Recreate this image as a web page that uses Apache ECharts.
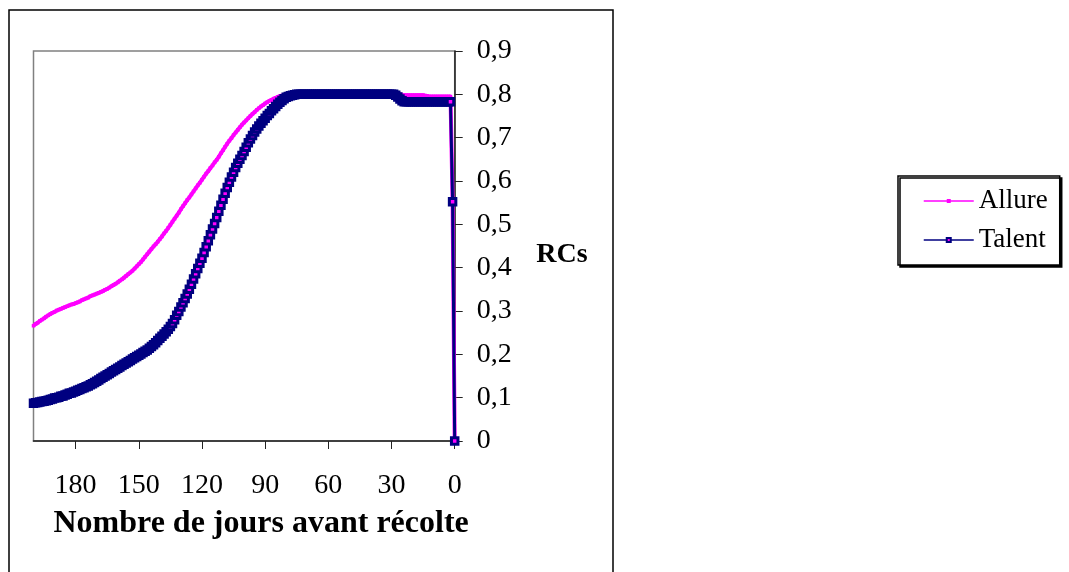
<!DOCTYPE html>
<html>
<head>
<meta charset="utf-8">
<script src="https://cdn.jsdelivr.net/npm/echarts@6/dist/echarts.min.js"></script>
<style>
  html, body { margin: 0; padding: 0; background: #ffffff; }
  #chart { width: 1069px; height: 572px; }
</style>
</head>
<body>
<div id="chart"></div>
<script>
// Days before harvest (x), one reading per day
const days = [
  200,199,198,197,196,195,194,193,192,191,
  190,189,188,187,186,185,184,183,182,181,
  180,179,178,177,176,175,174,173,172,171,
  170,169,168,167,166,165,164,163,162,161,
  160,159,158,157,156,155,154,153,152,151,
  150,149,148,147,146,145,144,143,142,141,
  140,139,138,137,136,135,134,133,132,131,
  130,129,128,127,126,125,124,123,122,121,
  120,119,118,117,116,115,114,113,112,111,
  110,109,108,107,106,105,104,103,102,101,
  100,99,98,97,96,95,94,93,92,91,
  90,89,88,87,86,85,84,83,82,81,
  80,79,78,77,76,75,74,73,72,71,
  70,69,68,67,66,65,64,63,62,61,
  60,59,58,57,56,55,54,53,52,51,
  50,49,48,47,46,45,44,43,42,41,
  40,39,38,37,36,35,34,33,32,31,
  30,29,28,27,26,25,24,23,22,21,
  20,19,18,17,16,15,14,13,12,11,
  10,9,8,7,6,5,4,3,2,1,
  0
];

// RCs of the variety Allure
const allure = [
  0.266,0.270,0.273,0.277,0.280,0.283,0.287,0.290,0.293,0.296,
  0.298,0.301,0.303,0.305,0.307,0.309,0.311,0.313,0.315,0.316,
  0.318,0.320,0.322,0.325,0.327,0.329,0.331,0.334,0.336,0.338,
  0.340,0.342,0.344,0.346,0.349,0.351,0.354,0.357,0.360,0.363,
  0.366,0.370,0.373,0.377,0.381,0.385,0.389,0.393,0.398,0.403,
  0.408,0.413,0.419,0.425,0.431,0.437,0.443,0.449,0.454,0.460,
  0.466,0.472,0.479,0.485,0.492,0.499,0.506,0.513,0.520,0.527,
  0.535,0.542,0.549,0.556,0.562,0.569,0.576,0.583,0.590,0.596,
  0.603,0.610,0.617,0.623,0.630,0.636,0.643,0.649,0.656,0.664,
  0.671,0.679,0.686,0.693,0.699,0.706,0.712,0.718,0.724,0.730,
  0.735,0.740,0.745,0.750,0.755,0.759,0.764,0.768,0.772,0.775,
  0.779,0.782,0.785,0.787,0.790,0.792,0.794,0.796,0.797,0.798,
  0.799,0.800,0.800,0.800,0.800,0.800,0.800,0.800,0.800,0.800,
  0.800,0.800,0.800,0.800,0.800,0.800,0.800,0.800,0.800,0.800,
  0.800,0.800,0.800,0.800,0.800,0.800,0.800,0.800,0.800,0.800,
  0.800,0.800,0.800,0.800,0.800,0.800,0.800,0.800,0.800,0.800,
  0.800,0.800,0.800,0.800,0.800,0.800,0.800,0.800,0.800,0.800,
  0.800,0.800,0.800,0.800,0.800,0.799,0.798,0.798,0.798,0.798,
  0.798,0.798,0.798,0.798,0.798,0.798,0.797,0.796,0.795,0.795,
  0.795,0.795,0.795,0.795,0.795,0.795,0.795,0.795,0.795,0.555,
  0
];

// RCs of the variety Talent
const talent = [
  0.087,0.088,0.089,0.090,0.091,0.092,0.093,0.094,0.096,0.097,
  0.099,0.100,0.101,0.103,0.104,0.106,0.108,0.110,0.111,0.113,
  0.115,0.117,0.119,0.121,0.123,0.125,0.127,0.130,0.132,0.135,
  0.138,0.141,0.144,0.147,0.150,0.153,0.156,0.159,0.162,0.165,
  0.168,0.171,0.174,0.177,0.180,0.183,0.186,0.189,0.192,0.195,
  0.198,0.201,0.204,0.207,0.210,0.214,0.218,0.222,0.227,0.232,
  0.237,0.242,0.247,0.252,0.258,0.264,0.271,0.280,0.290,0.299,
  0.309,0.319,0.329,0.339,0.350,0.362,0.374,0.386,0.398,0.410,
  0.422,0.435,0.448,0.462,0.476,0.489,0.502,0.516,0.530,0.544,
  0.558,0.572,0.585,0.597,0.609,0.620,0.631,0.641,0.650,0.659,
  0.668,0.678,0.688,0.697,0.705,0.713,0.720,0.727,0.733,0.739,
  0.745,0.751,0.756,0.762,0.767,0.772,0.777,0.782,0.786,0.790,
  0.793,0.795,0.797,0.798,0.799,0.800,0.800,0.800,0.800,0.800,
  0.800,0.800,0.800,0.800,0.800,0.800,0.800,0.800,0.800,0.800,
  0.800,0.800,0.800,0.800,0.800,0.800,0.800,0.800,0.800,0.800,
  0.800,0.800,0.800,0.800,0.800,0.800,0.800,0.800,0.800,0.800,
  0.800,0.800,0.800,0.800,0.800,0.800,0.800,0.800,0.800,0.800,
  0.800,0.800,0.798,0.794,0.789,0.785,0.783,0.783,0.783,0.783,
  0.783,0.783,0.783,0.783,0.783,0.783,0.783,0.783,0.783,0.783,
  0.783,0.783,0.783,0.783,0.783,0.783,0.783,0.783,0.783,0.552,
  0
];

// Labelled ticks on each axis
const dayTicks = [0, 30, 60, 90, 120, 150, 180];
const rcTicks = [0, 0.1, 0.2, 0.3, 0.4, 0.5, 0.6, 0.7, 0.8, 0.9];

const SERIF = '"Liberation Serif", "Times New Roman", serif';

const chart = echarts.init(document.getElementById('chart'), null, { renderer: 'canvas' });

chart.setOption({
  animation: false,
  backgroundColor: '#ffffff',
  textStyle: { fontFamily: SERIF, color: '#000' },
  grid: {
    left: 33.5,
    right: 614.3,
    top: 51,
    bottom: 131,
    show: true,
    borderColor: '#808080',
    borderWidth: 1.5,
    backgroundColor: 'transparent'
  },
  legend: {
    orient: 'vertical',
    left: 898,
    top: 176,
    padding: [10, 12, 10, 25],
    itemGap: 9,
    itemWidth: 50,
    itemHeight: 5,
    borderColor: '#000',
    borderWidth: 1.5,
    backgroundColor: '#fff',
    shadowColor: '#000',
    shadowBlur: 0,
    shadowOffsetX: 2,
    shadowOffsetY: 2,
    lineStyle: { width: 1.5 },
    textStyle: { fontFamily: SERIF, fontSize: 27, lineHeight: 30, color: '#000' },
    data: ['Allure', 'Talent']
  },
  graphic: [
    {
      // frame round the whole chart area
      type: 'rect',
      silent: true,
      z: -1,
      shape: { x: 9, y: 10, width: 604, height: 640 },
      style: { fill: 'none', stroke: '#000', lineWidth: 1.5 }
    },
    {
      // value-axis title, set beside the axis labels
      type: 'text',
      silent: true,
      x: 562,
      y: 255,
      style: {
        text: 'RCs',
        align: 'center',
        verticalAlign: 'middle',
        fontFamily: SERIF,
        fontSize: 28,
        fontWeight: 'bold',
        fill: '#000'
      }
    }
  ],
  xAxis: {
    type: 'value',
    inverse: true,
    min: 0,
    max: 200,
    interval: 30,
    name: 'Nombre de jours avant récolte',
    nameLocation: 'middle',
    nameGap: 67,
    nameTextStyle: {
      fontFamily: SERIF, fontSize: 32, fontWeight: 'bold', color: '#000',
      padding: [0, 0, 0, 34]
    },
    splitLine: { show: false },
    axisLine: { show: true, onZero: false, lineStyle: { color: '#222', width: 1.5 } },
    axisTick: { show: true, inside: false, length: 8, customValues: dayTicks, lineStyle: { color: '#222', width: 1 } },
    axisLabel: {
      customValues: dayTicks,
      margin: 31,
      fontFamily: SERIF, fontSize: 28, color: '#000'
    }
  },
  yAxis: {
    type: 'value',
    position: 'right',
    min: 0,
    max: 0.9,
    interval: 0.1,
    splitLine: { show: false },
    axisLine: { show: true, onZero: false, lineStyle: { color: '#222', width: 1.5 } },
    axisTick: { show: true, inside: false, length: 8, customValues: rcTicks, lineStyle: { color: '#222', width: 1 } },
    axisLabel: {
      customValues: rcTicks,
      margin: 22,
      fontFamily: SERIF, fontSize: 28, color: '#000',
      formatter: v => (v === 0 ? '0' : v.toFixed(1).replace('.', ','))
    }
  },
  series: [
    {
      name: 'Allure',
      type: 'line',
      data: days.map((d, i) => [d, allure[i]]),
      symbol: 'rect',
      symbolSize: 3.5,
      showSymbol: true,
      itemStyle: { color: '#ff00ff' },
      lineStyle: { color: '#ff00ff', width: 4 },
      z: 2
    },
    {
      name: 'Talent',
      type: 'line',
      data: days.map((d, i) => [d, talent[i]]),
      symbol: 'rect',
      symbolSize: 6.5,
      showSymbol: true,
      itemStyle: { color: '#ff00ff', borderColor: '#000080', borderWidth: 3 },
      lineStyle: { color: '#000080', width: 3 },
      z: 3
    }
  ]
});
</script>
</body>
</html>
